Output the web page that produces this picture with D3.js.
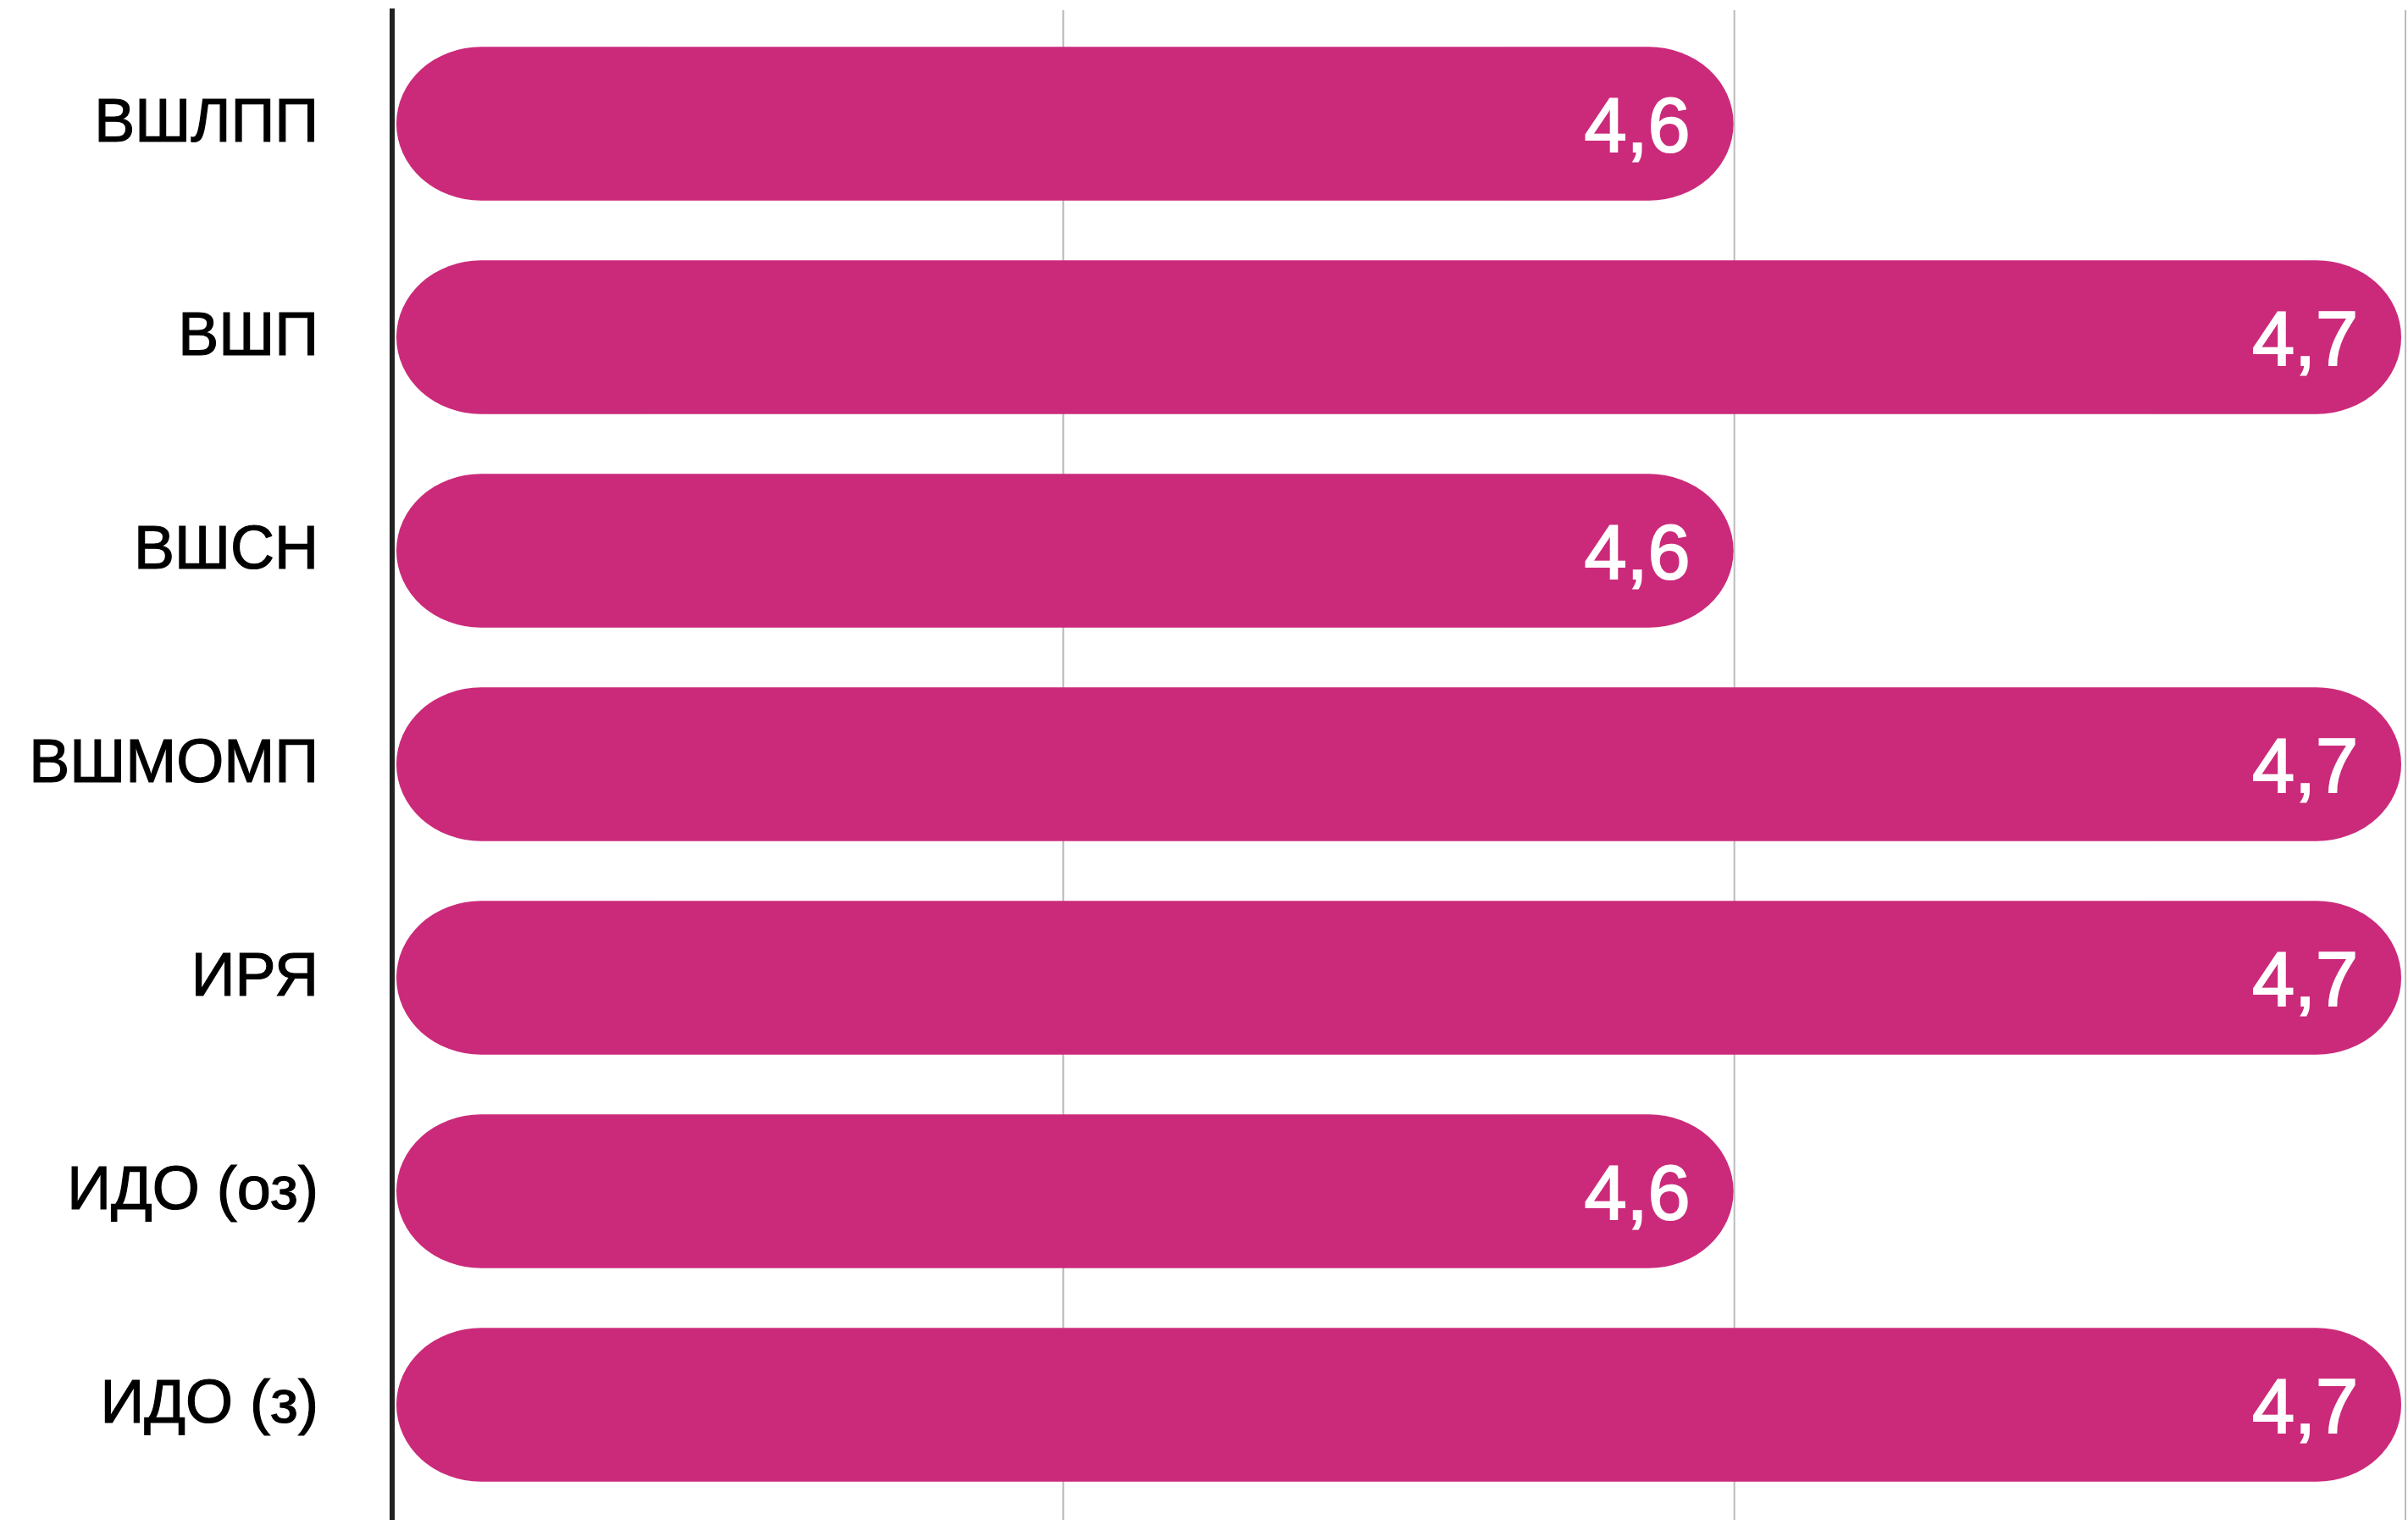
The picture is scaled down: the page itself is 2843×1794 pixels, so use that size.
<!DOCTYPE html>
<html>
<head>
<meta charset="utf-8">
<script src="https://cdn.jsdelivr.net/npm/d3@7"></script>
<style>
  html, body { margin: 0; padding: 0; background: #ffffff; }
  svg { display: block; }
</style>
</head>
<body>
<svg id="chart" width="2843" height="1794"></svg>
<script>
const categories = ["ВШЛПП", "ВШП", "ВШСН", "ВШМОМП", "ИРЯ", "ИДО (оз)", "ИДО (з)"];
const values = [4.6, 4.7, 4.6, 4.7, 4.7, 4.6, 4.7];
const xDomain = [4.4, 4.7];
const gridTicks = [4.5, 4.6, 4.7];
const valueLabels = ["4,6", "4,7", "4,6", "4,7", "4,7", "4,6", "4,7"];

const W = 2843, H = 1794;
const svg = d3.select("#chart");

const x = d3.scaleLinear().domain(xDomain).range([463, 2840]);
const y = d3.scaleBand().domain(categories).range([20, 1784]).paddingInner(0.28).paddingOuter(0.14);

const data = categories.map((c, i) => ({ cat: c, value: values[i], label: valueLabels[i] }));

// gridlines
svg.append("g")
  .selectAll("line")
  .data(gridTicks)
  .join("line")
  .attr("x1", d => x(d)).attr("x2", d => x(d))
  .attr("y1", 12).attr("y2", H)
  .attr("stroke", "#bbbbbb")
  .attr("stroke-width", 2);

// bars (plot area ends a few px before the frame edge)
const bh = y.bandwidth();
const barEnd = d => Math.min(x(d.value) - 1, x.range()[1] - 5);
svg.append("g")
  .selectAll("rect")
  .data(data)
  .join("rect")
  .attr("x", x(xDomain[0]) + 5)
  .attr("y", d => y(d.cat))
  .attr("width", d => barEnd(d) - (x(xDomain[0]) + 5))
  .attr("height", bh)
  .attr("rx", 100)
  .attr("ry", bh / 2)
  .attr("fill", "#cb2a7a");

// value labels
svg.append("g")
  .selectAll("text")
  .data(data)
  .join("text")
  .attr("x", d => barEnd(d) - 51)
  .attr("y", d => y(d.cat) + bh / 2 + 33)
  .attr("text-anchor", "end")
  .attr("font-family", "'Liberation Sans', Arial, Helvetica, sans-serif")
  .attr("font-size", 90)
  .attr("fill", "#ffffff")
  .attr("stroke", "#ffffff")
  .attr("stroke-width", 2)
  .text(d => d.label);

// category labels
svg.append("g")
  .selectAll("text")
  .data(data)
  .join("text")
  .attr("x", 376)
  .attr("y", d => y(d.cat) + bh / 2 + 21)
  .attr("text-anchor", "end")
  .attr("font-family", "'Liberation Sans', Arial, Helvetica, sans-serif")
  .attr("font-size", 72)
  .attr("fill", "#000000")
  .attr("stroke", "#000000")
  .attr("stroke-width", 1.2)
  .text(d => d.cat);

// axis line
svg.append("line")
  .attr("x1", x(xDomain[0])).attr("x2", x(xDomain[0]))
  .attr("y1", 10).attr("y2", H)
  .attr("stroke", "#222222")
  .attr("stroke-width", 6);
</script>
</body>
</html>
